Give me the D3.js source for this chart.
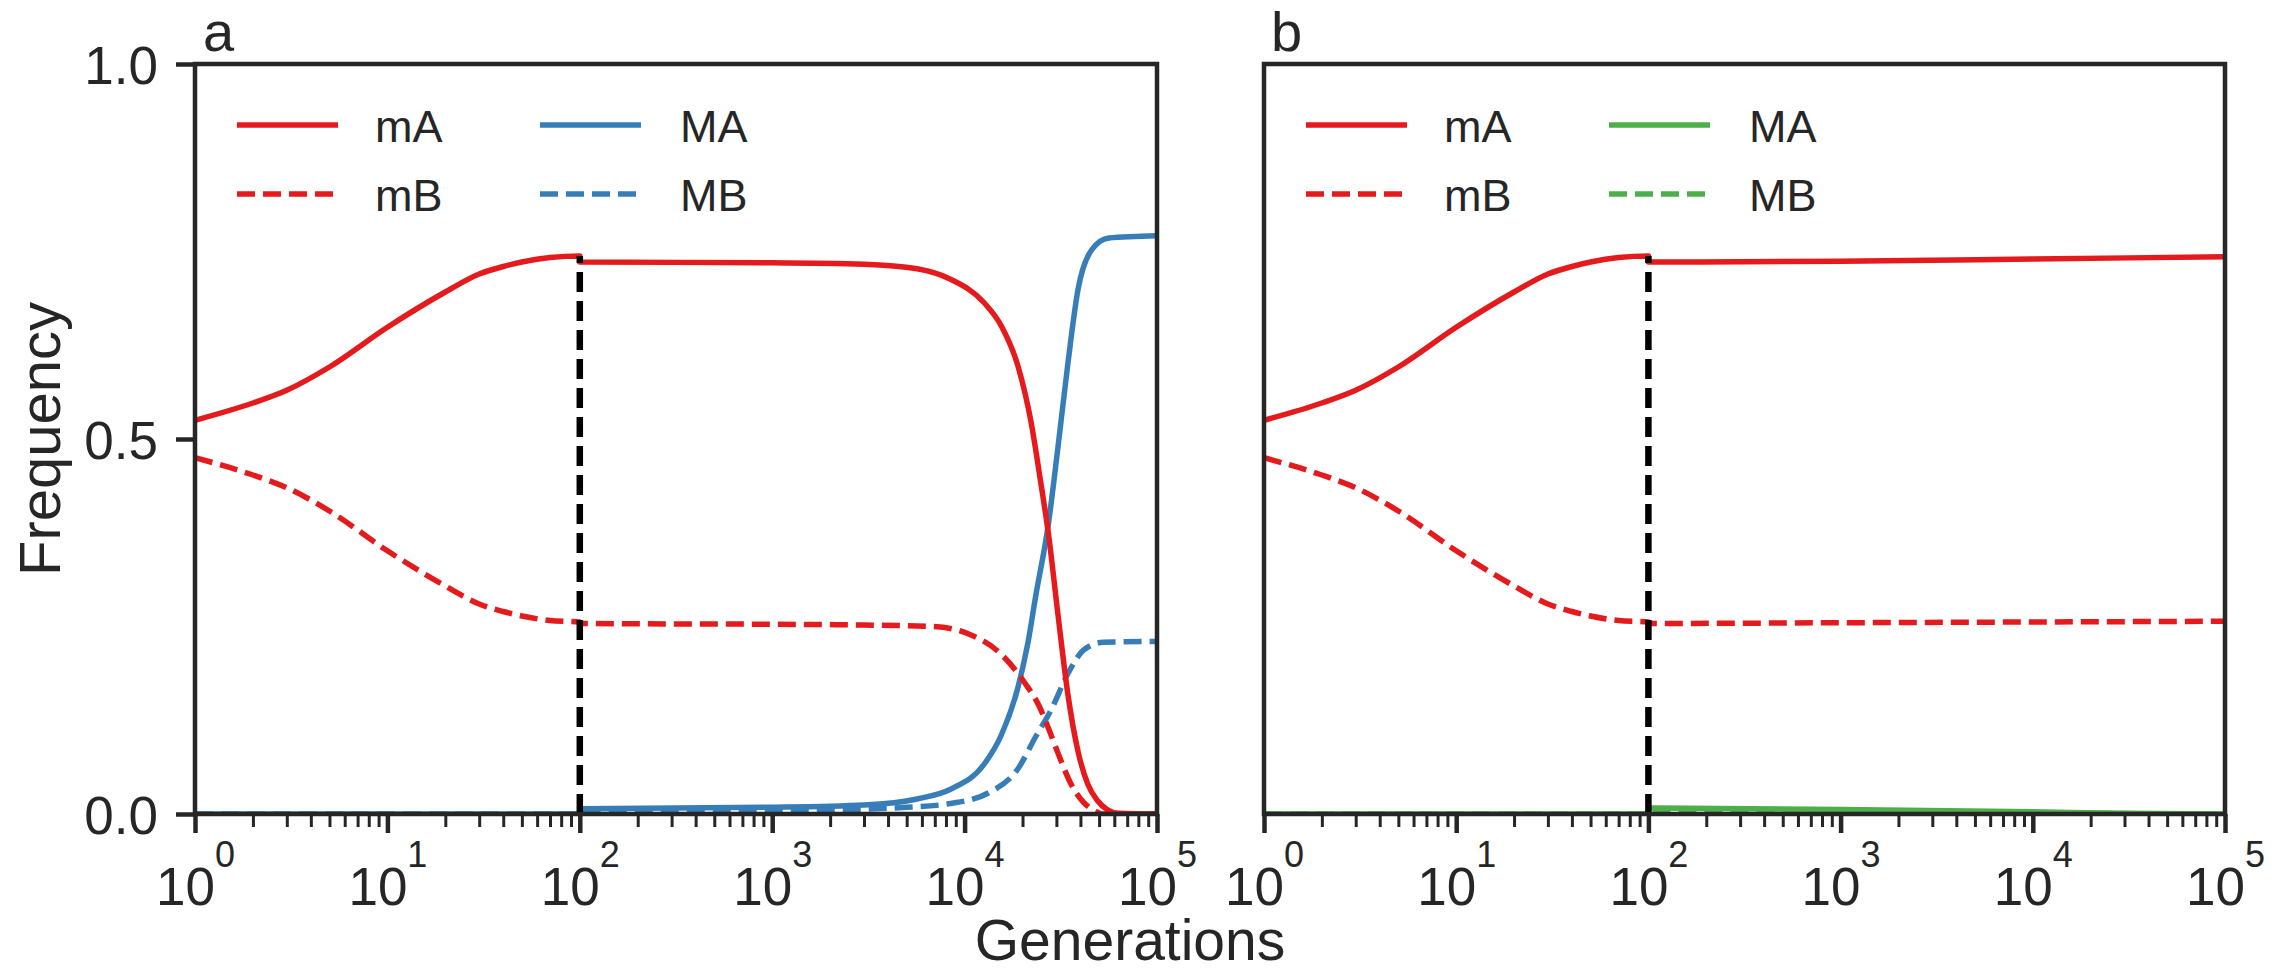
<!DOCTYPE html>
<html>
<head>
<meta charset="utf-8">
<script src="https://cdn.jsdelivr.net/npm/d3@7"></script>
<style>
  html, body { margin: 0; padding: 0; background: #fff; }
  svg { display: block; }
  text { font-family: "Liberation Sans", Arial, Helvetica, sans-serif; fill: #262626; }
</style>
</head>
<body>
<svg id="chart" width="2292" height="970"></svg>
<script>
// ---------------- DATA ----------------
const panelLabels = ["a", "b"];
const seriesNames = ["mA", "mB", "MA", "MB"];
const xTickValues = [1, 10, 100, 1000, 10000, 100000];
const xTickExponents = ["0", "1", "2", "3", "4", "5"];
const yTickValues = [0, 0.5, 1.0];
const switchGeneration = 100;

// Phase 1 (generations 1..100), identical in both panels
const genPre = [1, 2, 3, 5, 10, 20, 30, 40, 50, 70, 100];
const mAPre  = [0.525, 0.548, 0.565, 0.596, 0.649, 0.696, 0.720, 0.730, 0.736, 0.742, 0.744];
const mBPre  = [0.475, 0.452, 0.435, 0.404, 0.351, 0.304, 0.280, 0.270, 0.264, 0.258, 0.256];
const genPreM = [1, 100];
const MPre    = [0, 0];

// Panel a, phase 2
const genA_mA = [100, 1000, 3000, 5660, 8450, 12600, 15500, 18900, 22100, 24950, 27200, 30600, 34400, 38900, 43650, 49000, 55000, 63000, 100000];
const valA_mA = [0.736, 0.735, 0.733, 0.727, 0.713, 0.682, 0.651, 0.598, 0.524, 0.440, 0.376, 0.265, 0.160, 0.083, 0.040, 0.018, 0.006, 0.001, 0.0];
const genA_mB = [100, 1000, 3000, 6900, 10500, 15500, 20400, 24500, 27500, 30600, 35900, 41700, 47000, 52500, 100000];
const valA_mB = [0.254, 0.253, 0.252, 0.250, 0.240, 0.213, 0.176, 0.143, 0.112, 0.081, 0.039, 0.015, 0.005, 0.0, 0.0];
const genA_MA = [100, 1000, 3000, 5660, 8450, 12600, 15500, 18900, 21400, 23400, 27200, 30600, 34400, 38900, 45700, 56200, 100000];
const valA_MA = [0.007, 0.009, 0.012, 0.020, 0.033, 0.066, 0.105, 0.168, 0.230, 0.290, 0.385, 0.490, 0.600, 0.700, 0.752, 0.768, 0.771];
const genA_MB = [100, 1000, 5000, 8450, 13500, 18900, 23400, 28200, 34400, 41700, 52500, 100000];
const valA_MB = [0.003, 0.004, 0.009, 0.014, 0.029, 0.060, 0.103, 0.139, 0.187, 0.219, 0.229, 0.230];

// Panel b, phase 2
const genB_mA = [100, 1000, 10000, 100000];
const valB_mA = [0.736, 0.737, 0.740, 0.743];
const genB_mB = [100, 1000, 10000, 100000];
const valB_mB = [0.254, 0.255, 0.256, 0.257];
const genB_MA = [100, 1000, 10000, 30000, 100000];
const valB_MA = [0.008, 0.006, 0.003, 0.001, 0.0];
const genB_MB = [100, 1000, 10000, 100000];
const valB_MB = [0.002, 0.0015, 0.001, 0.0];

// ---------------- STYLE ----------------
const RED = "#e41a1c", BLUE = "#377eb8", GREEN = "#4daf4a", INK = "#262626";
const dashPattern = "18,8";
const LW = 5.5;

const svg = d3.select("#chart");
const plotTop = 64, plotBottom = 814;
const panels = [
  { left: 195, right: 1157, label: panelLabels[0],
    series: [
      { name: seriesNames[0], color: RED, dashed: false, x: genPre.concat(genA_mA), y: mAPre.concat(valA_mA) },
      { name: seriesNames[1], color: RED, dashed: true,  x: genPre.concat(genA_mB), y: mBPre.concat(valA_mB) },
      { name: seriesNames[2], color: BLUE, dashed: false, x: genPreM.concat(genA_MA), y: MPre.concat(valA_MA) },
      { name: seriesNames[3], color: BLUE, dashed: true,  x: genPreM.concat(genA_MB), y: MPre.concat(valA_MB) }
    ], yLabels: true },
  { left: 1264, right: 2225, label: panelLabels[1],
    series: [
      { name: seriesNames[0], color: RED, dashed: false, x: genPre.concat(genB_mA), y: mAPre.concat(valB_mA) },
      { name: seriesNames[1], color: RED, dashed: true,  x: genPre.concat(genB_mB), y: mBPre.concat(valB_mB) },
      { name: seriesNames[2], color: GREEN, dashed: false, x: genPreM.concat(genB_MA), y: MPre.concat(valB_MA) },
      { name: seriesNames[3], color: GREEN, dashed: true,  x: genPreM.concat(genB_MB), y: MPre.concat(valB_MB) }
    ], yLabels: false }
];

const minorTicks = [];
for (let e = 0; e < 5; e++) for (let m = 2; m <= 9; m++) minorTicks.push(m * Math.pow(10, e));

panels.forEach((p, pi) => {
  const x = d3.scaleLog().domain([1, 100000]).range([p.left, p.right]);
  const y = d3.scaleLinear().domain([0, 1]).range([plotBottom, plotTop]);
  const g = svg.append("g");

  const clipId = "clip" + pi;
  svg.append("clipPath").attr("id", clipId).append("rect")
    .attr("x", p.left).attr("y", plotTop).attr("width", p.right - p.left).attr("height", plotBottom - plotTop);

  const line = d3.line().x(d => x(d[0])).y(d => y(d[1])).curve(d3.curveMonotoneX);
  const plot = g.append("g").attr("clip-path", `url(#${clipId})`);

  [2, 3, 0, 1].forEach(i => {
    const s = p.series[i];
    const pts = s.x.map((v, k) => [v, s.y[k]]);
    plot.append("path").attr("d", line(pts))
      .attr("fill", "none").attr("stroke", s.color).attr("stroke-width", LW)
      .attr("stroke-linejoin", "round")
      .attr("stroke-dasharray", s.dashed ? dashPattern : null);
  });

  const mA100 = mAPre[genPre.indexOf(switchGeneration)];
  plot.append("line")
    .attr("x1", x(switchGeneration)).attr("x2", x(switchGeneration))
    .attr("y1", y(0)).attr("y2", y(mA100))
    .attr("stroke", "#000").attr("stroke-width", 6.5).attr("stroke-dasharray", "20,9");

  const minorAxis = d3.axisBottom(x).tickValues(minorTicks).tickSize(13).tickFormat("");
  const mg = g.append("g").attr("transform", `translate(0,${plotBottom})`).call(minorAxis);
  mg.select(".domain").remove();
  mg.selectAll(".tick line").attr("stroke", INK).attr("stroke-width", 3);

  const majorAxis = d3.axisBottom(x).tickValues(xTickValues).tickSize(19).tickFormat("");
  const xg = g.append("g").attr("transform", `translate(0,${plotBottom})`).call(majorAxis);
  xg.select(".domain").remove();
  xg.selectAll(".tick line").attr("stroke", INK).attr("stroke-width", 4.5);
  xg.selectAll(".tick text").each(function(d, i) {
    const t = d3.select(this);
    t.text(null).attr("y", 91).attr("dy", null)
      .attr("text-anchor", "middle").style("font-size", "53px").attr("fill", INK);
    t.append("tspan").text("10");
    t.append("tspan").text(xTickExponents[i]).attr("dy", -38).style("font-size", "36px");
  });

  if (p.yLabels) {
    const yAxis = d3.axisLeft(y).tickValues(yTickValues).tickSize(19).tickPadding(18).tickFormat(d3.format(".1f"));
    const yg = g.append("g").attr("transform", `translate(${p.left},0)`).call(yAxis);
    yg.select(".domain").remove();
    yg.selectAll(".tick line").attr("stroke", INK).attr("stroke-width", 4.5);
    yg.selectAll(".tick text").style("font-size", "53px").attr("fill", INK).attr("dy", "0.36em");
  }

  g.append("rect").attr("x", p.left).attr("y", plotTop)
    .attr("width", p.right - p.left).attr("height", plotBottom - plotTop)
    .attr("fill", "none").attr("stroke", INK).attr("stroke-width", 4.5);

  g.append("text").attr("x", p.left + (pi === 0 ? 8 : 7)).attr("y", 51)
    .style("font-size", "56px").text(p.label);

  const cols = [{ lx: 42, tx: 180 }, { lx: 345, tx: 485 }];
  const rows = [125, 194];
  p.series.forEach((s, i) => {
    const c = cols[Math.floor(i / 2)], r = rows[i % 2];
    g.append("line")
      .attr("x1", p.left + c.lx).attr("x2", p.left + c.lx + 101)
      .attr("y1", r).attr("y2", r)
      .attr("stroke", s.color).attr("stroke-width", LW)
      .attr("stroke-dasharray", s.dashed ? dashPattern : null);
    g.append("text").attr("x", p.left + c.tx).attr("y", r + 17)
      .style("font-size", "45px").text(s.name);
  });
});

svg.append("text").attr("x", 1130).attr("y", 960).attr("text-anchor", "middle")
  .style("font-size", "57px").text("Generations");
svg.append("text").attr("transform", "translate(60,439) rotate(-90)")
  .attr("text-anchor", "middle").style("font-size", "58px").text("Frequency");
</script>
</body>
</html>
